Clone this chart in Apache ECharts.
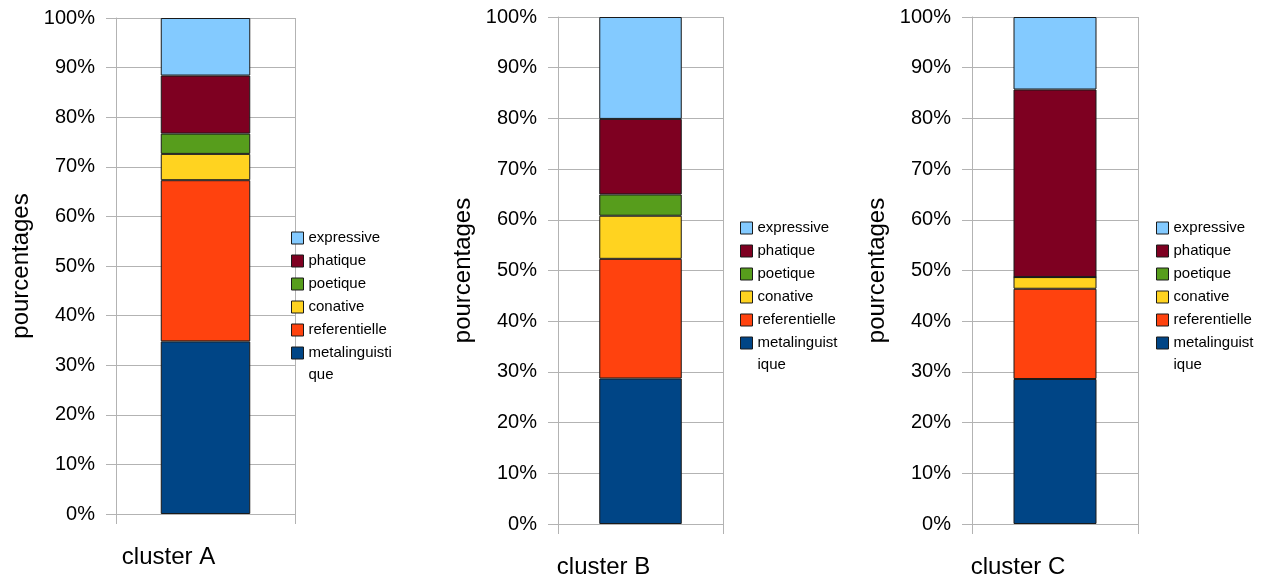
<!DOCTYPE html>
<html>
<head>
  <meta charset="utf-8">
  <title>pourcentages par cluster</title>
  <script src="https://cdn.jsdelivr.net/npm/echarts@6/dist/echarts.min.js"></script>
  <style>
    html, body { margin: 0; padding: 0; background: #fff; }
    #chart { width: 1268px; height: 585px; }
  </style>
</head>
<body>
<div id="chart"></div>
<script>
  // donnees (en %)
  var clusters = ['cluster A', 'cluster B', 'cluster C'];
  var fonctions = ['metalinguistique', 'referentielle', 'conative', 'poetique', 'phatique', 'expressive'];
  var metalinguistique = [34.8, 28.7, 28.6];
  var referentielle = [32.5, 23.6, 17.8];
  var conative = [5.3, 8.5, 2.3];
  var poetique = [4.1, 4.2, 0];
  var phatique = [11.7, 14.9, 37.0];
  var expressive = [11.6, 20.1, 14.3];

  var valeurs = {
    metalinguistique: metalinguistique,
    referentielle: referentielle,
    conative: conative,
    poetique: poetique,
    phatique: phatique,
    expressive: expressive
  };

  // palette LibreOffice
  var couleurs = {
    metalinguistique: '#004586',
    referentielle: '#ff420e',
    conative: '#ffd320',
    poetique: '#579d1c',
    phatique: '#7e0021',
    expressive: '#83caff'
  };

  var police = '"Liberation Sans", Arial, sans-serif';
  var gris = '#b3b3b3';

  // position des trois graphiques
  var grilles = [
    { left: 116, top: 18, width: 179, height: 496 },
    { left: 558, top: 17, width: 165, height: 507 },
    { left: 972, top: 17, width: 166, height: 507 }
  ];
  var legendes = [
    { left: 291, top: 205 },
    { left: 740, top: 195 },
    { left: 1156, top: 195 }
  ];
  // coupure du mot dans la legende
  var coupures = ['metalinguisti\nque', 'metalinguist\nique', 'metalinguist\nique'];

  var myChart = echarts.init(document.getElementById('chart'));

  var xAxes = [], yAxes = [], series = [], legend = [];

  clusters.forEach(function (nom, i) {
    xAxes.push({
      type: 'category',
      gridIndex: i,
      data: [nom],
      boundaryGap: true,
      axisLine: { show: true, lineStyle: { color: gris, width: 1 } },
      axisTick: { show: true, length: 10, lineStyle: { color: gris } },
      splitLine: { show: true, lineStyle: { color: gris, width: 1 } },
      axisLabel: {
        fontFamily: police,
        fontSize: 24,
        color: '#000',
        lineHeight: 24,
        margin: 31,
        padding: [0, 74, 0, 0]
      }
    });
    yAxes.push({
      type: 'value',
      gridIndex: i,
      min: 0,
      max: 100,
      interval: 10,
      name: 'pourcentages',
      nameLocation: 'middle',
      nameGap: 83,
      nameTextStyle: { fontFamily: police, fontSize: 24, color: '#000' },
      axisLine: { show: true, lineStyle: { color: gris, width: 1 } },
      axisTick: { show: true, length: 10, lineStyle: { color: gris } },
      splitLine: { show: true, lineStyle: { color: gris, width: 1 } },
      axisLabel: {
        fontFamily: police,
        fontSize: 20,
        color: '#000',
        margin: 21,
        formatter: '{value}%'
      }
    });

    fonctions.forEach(function (f) {
      series.push({
        name: f,
        type: 'bar',
        stack: 'pile' + i,
        xAxisIndex: i,
        yAxisIndex: i,
        barWidth: '50%',
        data: [valeurs[f][i]],
        itemStyle: { color: couleurs[f], borderColor: '#1a1a1a', borderWidth: 1 }
      });
    });

    // lignes vides autour du texte pour garder le carre sur la premiere ligne
    legend.push({
      orient: 'vertical',
      left: legendes[i].left,
      top: legendes[i].top,
      padding: 0,
      itemWidth: 12,
      itemHeight: 12,
      itemGap: -43,
      icon: 'rect',
      selectedMode: false,
      data: fonctions.slice().reverse(),
      itemStyle: { borderColor: '#1a1a1a', borderWidth: 1 },
      textStyle: { fontFamily: police, fontSize: 15, color: '#000', lineHeight: 22 },
      formatter: function (name) {
        if (name === 'metalinguistique') return '\n' + coupures[i];
        return '\n' + name + '\n';
      }
    });
  });

  myChart.setOption({
    animation: false,
    backgroundColor: '#fff',
    grid: grilles,
    xAxis: xAxes,
    yAxis: yAxes,
    legend: legend,
    series: series
  });
</script>
</body>
</html>
